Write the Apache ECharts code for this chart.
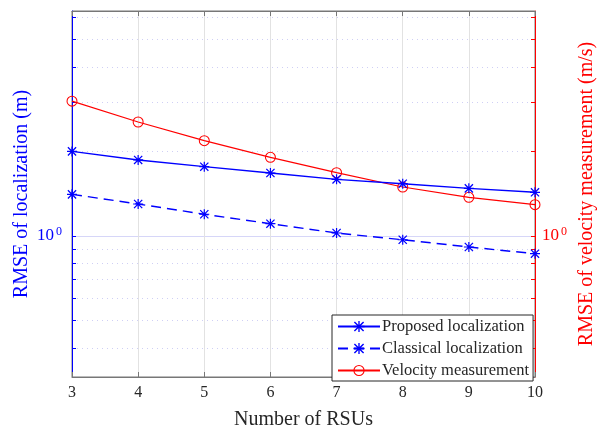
<!DOCTYPE html>
<html>
<head>
<meta charset="utf-8">
<script src="https://cdn.jsdelivr.net/npm/echarts@6/dist/echarts.min.js"></script>
<style>
  html, body { margin: 0; padding: 0; background: #fff; }
  #main { width: 600px; height: 427px; }
</style>
</head>
<body>
<div id="main"></div>
<script>
// number of RSUs
const rsus = [3, 4, 5, 6, 7, 8, 9, 10];
// RMSE of localization (m)
const proposedLoc = [2.00, 1.865, 1.765, 1.676, 1.591, 1.535, 1.478, 1.431];
const classicalLoc = [1.407, 1.300, 1.195, 1.106, 1.025, 0.970, 0.914, 0.865];
// RMSE of velocity measurement (m/s)
const velocity = [3.02, 2.545, 2.184, 1.906, 1.680, 1.494, 1.373, 1.293];
// log axis minor ticks / grid values
const logTicks = [0.4, 0.5, 0.6, 0.7, 0.8, 0.9, 1, 2, 3, 4, 5, 6];
const yMin = 0.315;
const yMax = 6.32;

const lg = (v) => Math.log10(v);
const toPts = (arr) => arr.map((v, i) => [rsus[i], lg(v)]);

const serif = "Liberation Serif";
const blue = "#0000ff";
const red = "#ff0000";
const asterisk =
  "path://M8.8 0H11.2V20H8.8Z M0 8.8H20V11.2H0Z " +
  "M2.7 0.9L19.1 17.3L17.3 19.1L0.9 2.7Z M17.3 0.9L19.1 2.7L2.7 19.1L0.9 17.3Z";
const ring =
  "path://M10 0A10 10 0 1 1 10 20A10 10 0 1 1 10 0Z " +
  "M10 1.9A8.1 8.1 0 1 0 10 18.1A8.1 8.1 0 1 0 10 1.9Z";

const tenPow = {
  a: { fontFamily: serif, fontSize: 17 },
  b: { fontFamily: serif, fontSize: 12, padding: [0, 0, 9, 2] },
};

const yBase = {
  type: "value",
  min: lg(yMin),
  max: lg(yMax),
  nameLocation: "middle",
  nameRotate: 90,
  nameMoveOverlap: false,
};

const chart = echarts.init(document.getElementById("main"));
chart.setOption({
  animation: false,
  grid: {
    left: 72,
    right: 65,
    top: 11,
    bottom: 50,
    outerBoundsMode: "none",
    containLabel: false,
    show: true,
    borderColor: "#777",
    borderWidth: 1,
  },
  legend: {
    orient: "vertical",
    left: 332,
    top: 315,
    itemWidth: 42,
    itemHeight: 14,
    itemGap: 5,
    padding: [3, 4, 2, 5],
    borderColor: "#262626",
    borderWidth: 1,
    backgroundColor: "#fff",
    textStyle: { fontFamily: serif, fontSize: 16.5, color: "#262626", padding: [0, 0, 0, -3] },
    data: ["Proposed localization", "Classical localization", "Velocity measurement"],
  },
  xAxis: [
    {
      type: "value",
      min: 3,
      max: 10,
      interval: 1,
      name: "Number of RSUs",
      nameLocation: "middle",
      nameGap: 33,
      nameTextStyle: { fontFamily: serif, fontSize: 20, color: "#262626" },
      axisLine: { onZero: false, lineStyle: { color: "#777", width: 1 } },
      axisTick: { inside: true, length: 5, lineStyle: { color: "#777" } },
      axisLabel: { fontFamily: serif, fontSize: 16, color: "#262626", margin: 8 },
      splitLine: { show: true, lineStyle: { color: "#e2e2e2", width: 1 } },
    },
    {
      type: "value",
      position: "top",
      min: 3,
      max: 10,
      interval: 1,
      axisLine: { onZero: false, lineStyle: { color: "#777", width: 1 } },
      axisTick: { inside: true, length: 5, lineStyle: { color: "#777" } },
      axisLabel: { show: false },
      splitLine: { show: false },
    },
  ],
  yAxis: [
    Object.assign({}, yBase, {
      position: "left",
      name: "RMSE of localization (m)",
      nameGap: 40,
      nameTextStyle: { fontFamily: serif, fontSize: 20, color: blue },
      axisLine: { show: true, onZero: false, lineStyle: { color: blue, width: 1 } },
      axisTick: { inside: true, length: 4, lineStyle: { color: blue }, customValues: logTicks.map(lg) },
      axisLabel: {
        customValues: [0],
        color: blue,
        margin: 10,
        formatter: () => "{a|10}{b|0}",
        rich: tenPow,
      },
      splitLine: { show: true, lineStyle: { color: "#cfcff5", type: [1, 4], width: 1 } },
    }),
    Object.assign({}, yBase, {
      position: "right",
      name: "RMSE of velocity measurement (m/s)",
      nameGap: 42,
      nameTextStyle: { fontFamily: serif, fontSize: 20, color: red },
      axisLine: { show: true, onZero: false, lineStyle: { color: red, width: 1 } },
      axisTick: { inside: true, length: 4, lineStyle: { color: red }, customValues: logTicks.map(lg) },
      axisLabel: {
        customValues: [0],
        color: red,
        margin: 7,
        formatter: () => "{a|10}{b|0}",
        rich: tenPow,
      },
      splitLine: { show: false },
    }),
    Object.assign({}, yBase, {
      position: "left",
      axisLine: { show: false, onZero: false },
      axisTick: { show: false, customValues: [0] },
      axisLabel: { show: false, customValues: [0] },
      splitLine: { show: true, lineStyle: { color: "#d6d6f8", width: 1 } },
    }),
  ],
  series: [
    {
      name: "Proposed localization",
      type: "line",
      yAxisIndex: 0,
      data: toPts(proposedLoc),
      symbol: asterisk,
      symbolSize: 10,
      lineStyle: { color: blue, width: 1.4 },
      itemStyle: { color: blue },
      z: 4,
    },
    {
      name: "Classical localization",
      type: "line",
      yAxisIndex: 0,
      data: toPts(classicalLoc),
      symbol: asterisk,
      symbolSize: 10,
      lineStyle: { color: blue, width: 1.4, type: [10, 6] },
      itemStyle: { color: blue },
      z: 4,
    },
    {
      name: "Velocity measurement",
      type: "line",
      yAxisIndex: 1,
      data: toPts(velocity),
      symbol: ring,
      symbolSize: 11,
      lineStyle: { color: red, width: 1.2 },
      itemStyle: { color: red },
      z: 3,
    },
  ],
});
</script>
</body>
</html>
